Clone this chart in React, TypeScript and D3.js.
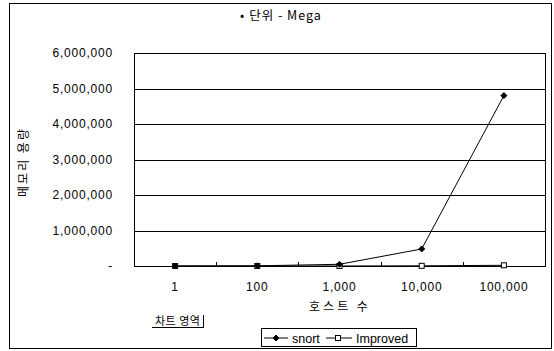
import React from "react";
import * as d3 from "d3";

const categories = ["1", "100", "1,000", "10,000", "100,000"];
const snortValues = [48, 4800, 48000, 480000, 4800000];
const improvedValues = [5, 50, 500, 5000, 20000];
const yTicks = [0, 1000000, 2000000, 3000000, 4000000, 5000000, 6000000];
const seriesNames = ["snort", "Improved"];
const titleText = "• 단위 - Mega";
const yTitle = "메모리 용량";
const xTitle = "호스트 수";
const chartAreaLabel = "차트 영역";

const W = 554;
const H = 351;
const plot = { left: 134, right: 545, top: 53, bottom: 266 };
const numFont = "'Liberation Sans', Arial, sans-serif";
const krFont = "'Noto Sans CJK KR', sans-serif";

export default function App() {
  const x = d3
    .scaleBand<string>()
    .domain(categories)
    .range([plot.left, plot.right])
    .padding(0);
  const y = d3.scaleLinear().domain([0, 6000000]).range([plot.bottom, plot.top]);
  const cx = (c: string) => (x(c) as number) + x.bandwidth() / 2;
  const line = d3
    .line<number>()
    .x((_, i) => cx(categories[i]))
    .y((d) => y(d));
  const fmt = d3.format(",");

  const diamond = (px: number, py: number, s = 3) =>
    `M${px},${py - s}L${px + s},${py}L${px},${py + s}L${px - s},${py}Z`;

  const legendY = 338;
  return (
    <svg
      width={W}
      height={H}
      style={{ position: "absolute", left: 0, top: 0, background: "#fff" }}
    >
      <rect x={9.5} y={3.5} width={542} height={345} fill="#fff" stroke="#000" strokeWidth={1} />
      <text x={281} y={20} textAnchor="middle" fontFamily={krFont} fontSize={12.5} letterSpacing={1} fill="#000">
        {titleText}
      </text>

      {/* gridlines */}
      {yTicks.map((t) => (
        <line
          key={t}
          x1={plot.left}
          x2={plot.right}
          y1={Math.round(y(t)) + 0.5}
          y2={Math.round(y(t)) + 0.5}
          stroke="#000"
          strokeWidth={1}
        />
      ))}
      <rect
        x={plot.left + 0.5}
        y={plot.top + 0.5}
        width={plot.right - plot.left}
        height={plot.bottom - plot.top}
        fill="none"
        stroke="#000"
        strokeWidth={1}
      />
      {/* x ticks between categories */}
      {categories.slice(1).map((c) => (
        <line
          key={c}
          x1={Math.round(x(c) as number) + 0.5}
          x2={Math.round(x(c) as number) + 0.5}
          y1={plot.bottom}
          y2={plot.bottom - 4}
          stroke="#000"
        />
      ))}
      {/* y tick labels */}
      {yTicks.map((t) => (
        <text
          key={t}
          x={113}
          y={y(t) + 4}
          textAnchor="end"
          fontFamily={numFont}
          fontSize={12}
          letterSpacing={0.8}
          fill="#000"
        >
          {t === 0 ? "-" : fmt(t)}
        </text>
      ))}
      {/* x tick labels */}
      {categories.map((c) => (
        <text
          key={c}
          x={cx(c)}
          y={291}
          textAnchor="middle"
          fontFamily={numFont}
          fontSize={12}
          letterSpacing={0.8}
          fill="#000"
        >
          {c}
        </text>
      ))}
      <text
        x={340}
        y={311}
        textAnchor="middle"
        fontFamily={krFont}
        fontSize={12}
        letterSpacing={3}
        fill="#000"
      >
        {xTitle}
      </text>
      <text
        transform={`translate(28,162) rotate(-90)`}
        textAnchor="middle"
        fontFamily={krFont}
        fontSize={12}
        letterSpacing={2}
        fill="#000"
      >
        {yTitle}
      </text>

      {/* series */}
      <path d={line(improvedValues) || ""} fill="none" stroke="#000" strokeWidth={1} />
      {improvedValues.map((v, i) => (
        <rect
          key={i}
          x={cx(categories[i]) - 2.5}
          y={y(v) - 2.5}
          width={5}
          height={5}
          fill="#fff"
          stroke="#000"
          strokeWidth={1}
        />
      ))}
      <path d={line(snortValues) || ""} fill="none" stroke="#000" strokeWidth={1} />
      {snortValues.map((v, i) => (
        <path key={i} d={diamond(cx(categories[i]), y(v))} fill="#000" stroke="#000" />
      ))}

      {/* chart area label */}
      <line x1={203.5} x2={203.5} y1={315} y2={328} stroke="#000" />
      <line x1={152} x2={204} y1={327.5} y2={327.5} stroke="#000" />
      <text x={155} y={325} fontFamily={krFont} fontSize={11} letterSpacing={0.5} fill="#000">
        {chartAreaLabel}
      </text>

      {/* legend */}
      <rect x={261.5} y={328.5} width={155} height={18} fill="#fff" stroke="#000" strokeWidth={1} />
      <line x1={264} x2={288} y1={legendY} y2={legendY} stroke="#000" />
      <path d={diamond(276, legendY)} fill="#000" stroke="#000" />
      <text x={292} y={legendY + 4.5} fontFamily={numFont} fontSize={12.5} fill="#000">
        {seriesNames[0]}
      </text>
      <line x1={326} x2={352} y1={legendY} y2={legendY} stroke="#000" />
      <rect x={335.5} y={legendY - 2.5} width={5} height={5} fill="#fff" stroke="#000" />
      <text x={356} y={legendY + 4.5} fontFamily={numFont} fontSize={12.5} fill="#000">
        {seriesNames[1]}
      </text>
    </svg>
  );
}
